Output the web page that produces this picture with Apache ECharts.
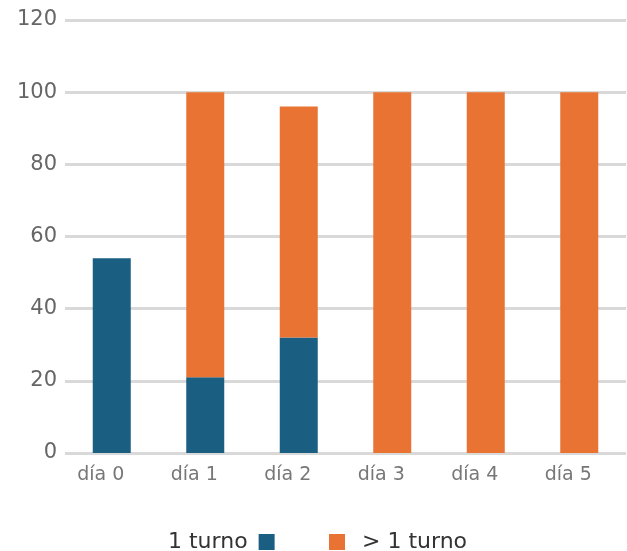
<!DOCTYPE html>
<html><head><meta charset="utf-8">
<script src="https://cdn.jsdelivr.net/npm/echarts@6/dist/echarts.min.js"></script>
<style>html,body{margin:0;padding:0;background:#fff}#c{width:627px;height:551px}</style>
</head><body><div id="c"></div>
<script>
const categories = ['día 0','día 1','día 2','día 3','día 4','día 5'];
const oneShift = [54, 21, 32, 0, 0, 0];
const moreShifts = [0, 79, 64, 100, 100, 100];
const seriesNames = ['1 turno', '> 1 turno'];
const yTicks = [0, 20, 40, 60, 80, 100, 120];

const chart = echarts.init(document.getElementById('c'));
const font = 'DejaVu Sans';
chart.setOption({
  animation: false,
  grid: { left: 65, right: 1, top: 20, bottom: 98 },
  legend: [
    { data: [seriesNames[0]], left: 163, top: 526, align: 'right', icon: 'rect',
      itemWidth: 16, itemHeight: 16,
      textStyle: { color: '#333', fontSize: 22, fontFamily: font, padding: [0, 6, 0, 0] } },
    { data: [seriesNames[1]], left: 324, top: 526, align: 'left', icon: 'rect',
      itemWidth: 16, itemHeight: 16,
      textStyle: { color: '#333', fontSize: 22, fontFamily: font, padding: [0, 0, 0, 12] } }
  ],
  xAxis: {
    type: 'category', data: categories,
    axisLine: { show: false }, axisTick: { show: false },
    axisLabel: { color: '#777', fontSize: 19, fontFamily: font, margin: 13, padding: [0, 22, 0, 0] }
  },
  yAxis: {
    type: 'value', min: yTicks[0], max: yTicks[yTicks.length - 1], interval: 20,
    axisLine: { show: false }, axisTick: { show: false },
    axisLabel: { color: '#666', fontSize: 21, fontFamily: font, margin: 8 },
    splitLine: { lineStyle: { color: '#d9d9d9', width: 3 } }
  },
  series: [
    { name: seriesNames[0], type: 'bar', stack: 't', data: oneShift, barWidth: 38,
      itemStyle: { color: '#1a5f82' } },
    { name: seriesNames[1], type: 'bar', stack: 't', data: moreShifts, barWidth: 38,
      itemStyle: { color: '#e87333' } }
  ]
});
</script></body></html>
